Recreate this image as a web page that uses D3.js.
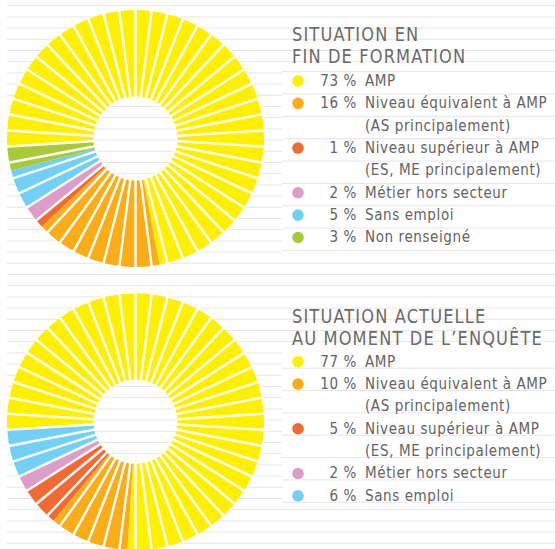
<!DOCTYPE html>
<html lang="fr">
<head>
<meta charset="utf-8">
<script src="https://d3js.org/d3.v7.min.js"></script>
<style>
  body { margin: 0; background: #fff; }
  text { font-family: "Liberation Sans Narrow", "DejaVu Sans Condensed", "Roboto", sans-serif; fill: #636363; }
</style>
</head>
<body>
<div id="chart"></div>
<script>
// categories and values
const colours = ["#fff000", "#fbad18", "#ef6b33", "#dc9dc8", "#72d0f4", "#a8c93a"];
const labelsFin = [["AMP"], ["Niveau équivalent à AMP", "(AS principalement)"], ["Niveau supérieur à AMP", "(ES, ME principalement)"], ["Métier hors secteur"], ["Sans emploi"], ["Non renseigné"]];
const valuesFin = [73, 16, 1, 2, 5, 3];
const labelsAct = [["AMP"], ["Niveau équivalent à AMP", "(AS principalement)"], ["Niveau supérieur à AMP", "(ES, ME principalement)"], ["Métier hors secteur"], ["Sans emploi"]];
const valuesAct = [77, 10, 5, 2, 6];
const titleFin = ["SITUATION EN", "FIN DE FORMATION"];
const titleAct = ["SITUATION ACTUELLE", "AU MOMENT DE L\u2019ENQUÊTE"];

const width = 555, height = 549;
const spokes = 50;
const outerR = 128.5, innerR = 42;
const start = -93.6 * Math.PI / 180;
const rowH = 22.35;
const split = 282; // legend column starts here

const svg = d3.select("#chart").append("svg")
    .attr("width", width)
    .attr("height", height);

// legend blocks
const blocks = [
    { titleY: 40.7, rowY: 86, title: titleFin, labels: labelsFin, values: valuesFin, lineOff: 8 },
    { titleY: 323.2, rowY: 366.7, title: titleAct, labels: labelsAct, values: valuesAct, lineOff: 1.5 }
];
blocks.forEach(b => {
    b.rows = d3.sum(b.labels, l => l.length);
    b.top = b.rowY - 17;
    b.bottom = b.rowY + (b.rows - 1) * rowH + b.lineOff + 4;
});

// notebook lines
const lineY = d3.range(49).map(k => 5.7 + 11.2 * k);
const grid = svg.append("g").attr("stroke", "#e6e6e6").attr("stroke-width", 1);
grid.selectAll("line.left").data(lineY).join("line")
    .attr("class", "left")
    .attr("x1", 7).attr("x2", split)
    .attr("y1", d => d).attr("y2", d => d);
grid.selectAll("line.right").data(lineY.filter(y => !blocks.some(b => y > b.top && y < b.bottom))).join("line")
    .attr("class", "right")
    .attr("x1", split).attr("x2", width)
    .attr("y1", d => d).attr("y2", d => d);
blocks.forEach(b => {
    const ys = d3.range(b.rows).map(r => b.rowY + r * rowH + b.lineOff);
    if (b.lineOff > 4) ys.unshift(b.rowY - rowH + b.lineOff);
    grid.append("g").selectAll("line").data(ys).join("line")
        .attr("x1", split).attr("x2", width)
        .attr("y1", d => d).attr("y2", d => d);
});

const pie = d3.pie().sort(null).startAngle(start).endAngle(start + 2 * Math.PI);
const arc = d3.arc().innerRadius(innerR).outerRadius(outerR);
const angle = d3.scaleLinear().domain([0, spokes]).range([0, 2 * Math.PI]);

function donut(values, cx, cy) {
    const g = svg.append("g").attr("transform", `translate(${cx},${cy})`);
    g.selectAll("path").data(pie(values)).join("path")
        .attr("d", arc)
        .attr("fill", (d, i) => colours[i]);
    // white gaps between the spokes
    g.selectAll("line").data(d3.range(spokes)).join("line")
        .attr("x1", d => Math.sin(angle(d)) * (innerR - 2))
        .attr("y1", d => -Math.cos(angle(d)) * (innerR - 2))
        .attr("x2", d => Math.sin(angle(d)) * (outerR + 2))
        .attr("y2", d => -Math.cos(angle(d)) * (outerR + 2))
        .attr("stroke", "#fff").attr("stroke-width", 2.4);
}

function legend(b) {
    const g = svg.append("g");
    g.selectAll("text.title").data(b.title).join("text")
        .attr("class", "title")
        .attr("transform", (d, i) => `translate(292,${b.titleY + i * 22}) scale(0.95,1)`)
        .style("font-size", "19px")
        .style("letter-spacing", "1.2px")
        .style("fill", "#6a6a6a")
        .text(d => d);
    let row = 0;
    b.values.forEach((v, i) => {
        const y = b.rowY + row * rowH;
        g.append("circle").attr("cx", 298).attr("cy", y - 5).attr("r", 5.8).attr("fill", colours[i]);
        g.append("text").attr("x", 357).attr("y", y)
            .attr("text-anchor", "end")
            .style("font-size", "15px").style("letter-spacing", "0.6px")
            .text(v + " %");
        b.labels[i].forEach((t, j) => {
            g.append("text").attr("x", 365).attr("y", y + j * rowH)
                .style("font-size", "15px").style("letter-spacing", "0.6px")
                .text(t);
        });
        row += b.labels[i].length;
    });
}

donut(valuesFin, 135.5, 138.5);
donut(valuesAct, 135.5, 421.8);
blocks.forEach(legend);
</script>
</body>
</html>
